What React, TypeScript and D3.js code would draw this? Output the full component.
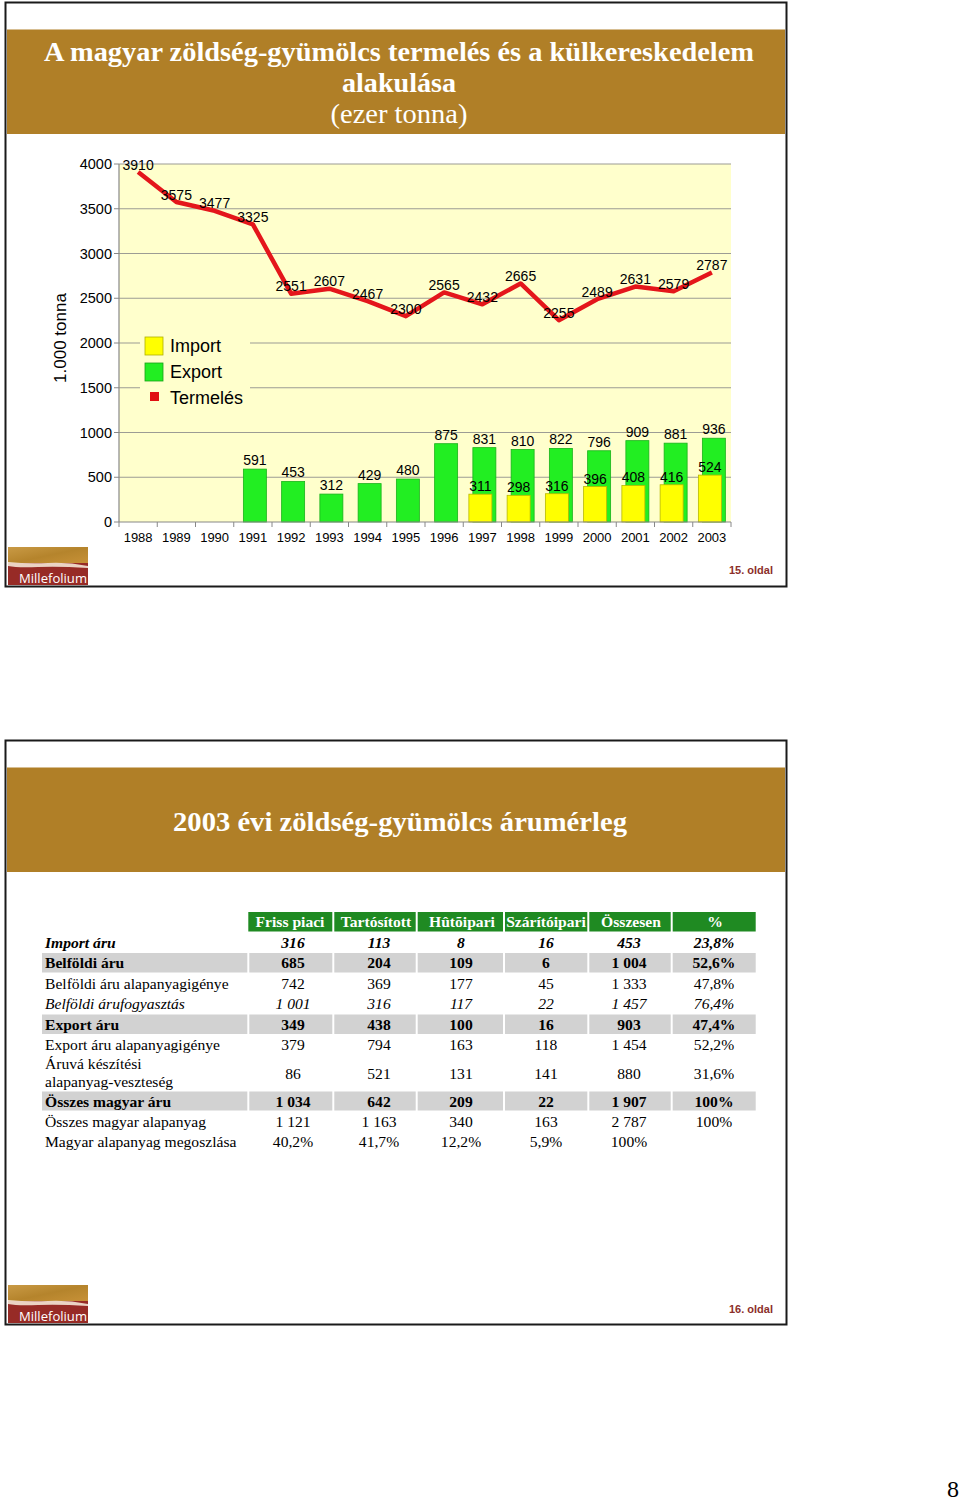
import React from 'react';
import * as d3 from 'd3';

// ---------- Chart data ----------
const years = ['1988','1989','1990','1991','1992','1993','1994','1995','1996','1997','1998','1999','2000','2001','2002','2003'];
const production = [3910,3575,3477,3325,2551,2607,2467,2300,2565,2432,2665,2255,2489,2631,2579,2787];
const exportVals: (number|null)[] = [null,null,null,591,453,312,429,480,875,831,810,822,796,909,881,936];
const importVals: (number|null)[] = [null,null,null,null,null,null,null,null,null,311,298,316,396,408,416,524];
const yTicks = [0,500,1000,1500,2000,2500,3000,3500,4000];
const legendItems = ['Import','Export','Termelés'];

// ---------- Table data ----------
const tableColumns = ['Friss piaci','Tartósított','Hûtõipari','Szárítóipari','Összesen','%'];
const tableRowLabels = [
  ['Import áru'],
  ['Belföldi áru'],
  ['Belföldi áru alapanyagigénye'],
  ['Belföldi árufogyasztás'],
  ['Export áru'],
  ['Export áru alapanyagigénye'],
  ['Áruvá készítési','alapanyag-veszteség'],
  ['Összes magyar áru'],
  ['Összes magyar alapanyag'],
  ['Magyar alapanyag megoszlása'],
];
const tableRowStyles = ['boldItalic','boldGray','normal','italic','boldGray','normal','normal','boldGray','normal','normal'];
const tableValues = [
  ['316','113','8','16','453','23,8%'],
  ['685','204','109','6','1 004','52,6%'],
  ['742','369','177','45','1 333','47,8%'],
  ['1 001','316','117','22','1 457','76,4%'],
  ['349','438','100','16','903','47,4%'],
  ['379','794','163','118','1 454','52,2%'],
  ['86','521','131','141','880','31,6%'],
  ['1 034','642','209','22','1 907','100%'],
  ['1 121','1 163','340','163','2 787','100%'],
  ['40,2%','41,7%','12,2%','5,9%','100%',''],
];

// ---------- Layout constants ----------
const SANS = '"Liberation Sans", Arial, sans-serif';
const SERIF = '"Liberation Serif", "Times New Roman", serif';
const GOLD = '#b07f27';
const PLOT = { left: 119, right: 731, top: 164, bottom: 522 };
const colBounds = [248.3, 333.3, 416.7, 504, 588.3, 671.7, 756.7];
const valueCenters = [293, 379, 461, 546, 629, 714];
const headerCenters = [290, 376, 462, 546, 631, 715];
const rowHeights = [20.5, 20.5, 20.5, 20.5, 20.5, 20.5, 36, 20, 20, 20.5];

function Logo({ x, y }: { x: number; y: number }) {
  return (
    <g transform={`translate(${x},${y})`}>
      <defs>
        <linearGradient id={`lg${y}`} x1="0" y1="0" x2="1" y2="1">
          <stop offset="0" stopColor="#c99a45" />
          <stop offset="0.5" stopColor="#b5842c" />
          <stop offset="1" stopColor="#c89238" />
        </linearGradient>
      </defs>
      <rect x={0} y={0} width={80} height={17} fill={`url(#lg${y})`} />
      <rect x={0} y={16} width={80} height={22} fill="#972b26" />
      <path d="M0,15 Q20,17 40,16 T80,19 L80,21 Q50,19 30,20 T0,19 Z" fill="#f4e6d6" opacity={0.9} />
      <text x={11} y={36} fill="#fff" fontFamily='"Open Sans", "Noto Sans", sans-serif' fontSize={13} textLength={68} lengthAdjust="spacingAndGlyphs">Millefolium</text>
    </g>
  );
}

function Chart() {
  const x = d3.scaleBand<string>().domain(years).range([PLOT.left, PLOT.right]).padding(0);
  const y = d3.scaleLinear().domain([0, 4000]).range([PLOT.bottom, PLOT.top]);
  const bw = 23;
  const off = 2;
  const cx = (yr: string) => (x(yr) as number) + x.bandwidth() / 2;
  const line = d3.line<number>().x((_, i) => cx(years[i])).y((d) => y(d));

  return (
    <g>
      <rect x={PLOT.left} y={PLOT.top} width={PLOT.right - PLOT.left} height={PLOT.bottom - PLOT.top} fill="#ffffcc" />
      {yTicks.map((t) => (
        <g key={t}>
          {t > 0 && <line x1={PLOT.left} x2={PLOT.right} y1={y(t)} y2={y(t)} stroke="#9c9c94" strokeWidth={1.2} />}
          <line x1={PLOT.left - 5} x2={PLOT.left} y1={y(t)} y2={y(t)} stroke="#888" strokeWidth={1} />
          <text x={112} y={y(t) + 5} textAnchor="end" fontFamily={SANS} fontSize={14.5} fill="#000">{t}</text>
        </g>
      ))}
      {/* Legend box */}
      <rect x={140} y={331} width={110} height={78} fill="#ffffcc" />
      <rect x={145} y={337} width={18} height={18} fill="#ffff00" stroke="#b0b000" strokeWidth={0.8} />
      <text x={170} y={352} fontFamily={SANS} fontSize={18}>{legendItems[0]}</text>
      <rect x={145} y={363} width={18} height={18} fill="#22ee22" stroke="#18a018" strokeWidth={0.8} />
      <text x={170} y={378} fontFamily={SANS} fontSize={18}>{legendItems[1]}</text>
      <rect x={150} y={392} width={9} height={9} fill="#e01010" />
      <text x={170} y={404} fontFamily={SANS} fontSize={18}>{legendItems[2]}</text>

      {/* Export bars */}
      {years.map((yr, i) => exportVals[i] == null ? null : (
        <rect key={'e' + yr} x={cx(yr) + off - bw / 2} y={y(exportVals[i] as number)} width={bw}
          height={PLOT.bottom - y(exportVals[i] as number)} fill="#22ee22" stroke="#1ab21a" strokeWidth={0.8} />
      ))}
      {/* Import bars */}
      {years.map((yr, i) => importVals[i] == null ? null : (
        <rect key={'i' + yr} x={cx(yr) - off - bw / 2} y={y(importVals[i] as number)} width={bw}
          height={PLOT.bottom - y(importVals[i] as number)} fill="#ffff00" stroke="#b8b800" strokeWidth={0.8} />
      ))}
      {/* axes */}
      <line x1={PLOT.left} x2={PLOT.left} y1={PLOT.top} y2={PLOT.bottom} stroke="#888" strokeWidth={1.2} />
      <line x1={PLOT.left} x2={PLOT.right} y1={PLOT.bottom} y2={PLOT.bottom} stroke="#888" strokeWidth={1.2} />
      {years.map((yr) => (
        <line key={'t' + yr} x1={x(yr) as number} x2={x(yr) as number} y1={PLOT.bottom} y2={PLOT.bottom + 5} stroke="#888" />
      ))}
      <line x1={PLOT.right} x2={PLOT.right} y1={PLOT.bottom} y2={PLOT.bottom + 5} stroke="#888" />
      {years.map((yr) => (
        <text key={'x' + yr} x={cx(yr)} y={542} textAnchor="middle" fontFamily={SANS} fontSize={13}>{yr}</text>
      ))}
      {/* production line */}
      <path d={line(production) || ''} fill="none" stroke="#e4161b" strokeWidth={4.5} strokeLinejoin="round" />
      {/* labels */}
      {years.map((yr, i) => exportVals[i] == null ? null : (
        <text key={'el' + yr} x={cx(yr) + off} y={y(exportVals[i] as number) - 4} textAnchor="middle" fontFamily={SANS} fontSize={14}>{exportVals[i]}</text>
      ))}
      {years.map((yr, i) => importVals[i] == null ? null : (
        <text key={'il' + yr} x={cx(yr) - off} y={y(importVals[i] as number) - 3} textAnchor="middle" fontFamily={SANS} fontSize={14}>{importVals[i]}</text>
      ))}
      {years.map((yr, i) => (
        <text key={'pl' + yr} x={cx(yr)} y={y(production[i]) - 2.5} textAnchor="middle" fontFamily={SANS} fontSize={14}>{production[i]}</text>
      ))}
      <text transform="translate(66,338) rotate(-90)" textAnchor="middle" fontFamily={SANS} fontSize={17}>1.000 tonna</text>
    </g>
  );
}

function Table() {
  const top = 912;
  const headerH = 19.5;
  let yPos = top + headerH + 0.5;
  const rows = tableRowLabels.map((lbl, i) => {
    const y0 = yPos;
    yPos += rowHeights[i];
    return { lbl, y0, h: rowHeights[i], style: tableRowStyles[i], vals: tableValues[i] };
  });
  const fontProps = (style: string) => ({
    fontWeight: style === 'boldItalic' || style === 'boldGray' ? 'bold' : 'normal',
    fontStyle: style === 'boldItalic' || style === 'italic' ? 'italic' : 'normal',
  });
  return (
    <g fontFamily={SERIF} fontSize={15.6}>
      {tableColumns.map((c, j) => (
        <g key={c}>
          <rect x={colBounds[j] + (j === 0 ? 0 : 1)} y={top} width={colBounds[j + 1] - colBounds[j] - (j === 0 ? 1 : 2)} height={headerH} fill="#1f8a22" />
          <text x={headerCenters[j]} y={top + 15} textAnchor="middle" fill="#fff" fontWeight="bold">{c}</text>
        </g>
      ))}
      {rows.map((r, i) => (
        <g key={i}>
          {r.style === 'boldGray' && (
            <g>
              <rect x={42} y={r.y0 + 0.5} width={colBounds[0] - 42 - 1} height={r.h - 1} fill="#d2d2d2" />
              {tableColumns.map((c, j) => (
                <rect key={c} x={colBounds[j] + 1} y={r.y0 + 0.5} width={colBounds[j + 1] - colBounds[j] - 2} height={r.h - 1} fill="#d2d2d2" />
              ))}
            </g>
          )}
          {r.lbl.length === 1 ? (
            <text x={45} y={r.y0 + r.h / 2 + 5.5} {...fontProps(r.style)}>{r.lbl[0]}</text>
          ) : (
            <g {...fontProps(r.style)}>
              <text x={45} y={r.y0 + 14}>{r.lbl[0]}</text>
              <text x={45} y={r.y0 + 32}>{r.lbl[1]}</text>
            </g>
          )}
          {r.vals.map((v, j) => (
            <text key={j} x={valueCenters[j]} y={r.y0 + r.h / 2 + 5.5} textAnchor="middle" {...fontProps(r.style)}>{v}</text>
          ))}
        </g>
      ))}
    </g>
  );
}

export default function App() {
  return (
    <svg width={960} height={1502} style={{ position: 'absolute', left: 0, top: 0, background: '#fff' }}>
      {/* Slide 1 */}
      <rect x={5.5} y={2.5} width={781} height={584} fill="#fff" stroke="#1a1a1a" strokeWidth={2} />
      <rect x={7} y={29.5} width={778} height={104.5} fill={GOLD} />
      <text x={399} y={61} textAnchor="middle" fill="#fff" fontFamily={SERIF} fontWeight="bold" fontSize={28} textLength={710} lengthAdjust="spacingAndGlyphs">A magyar zöldség-gyümölcs termelés és a külkereskedelem</text>
      <text x={399} y={92} textAnchor="middle" fill="#fff" fontFamily={SERIF} fontWeight="bold" fontSize={28} textLength={114} lengthAdjust="spacingAndGlyphs">alakulása</text>
      <text x={399} y={123} textAnchor="middle" fill="#fff" fontFamily={SERIF} fontSize={28} textLength={137} lengthAdjust="spacingAndGlyphs">(ezer tonna)</text>
      <Chart />
      <Logo x={8} y={547} />
      <text x={773} y={574} textAnchor="end" fill="#8c2f2a" fontFamily={SANS} fontWeight="bold" fontSize={11}>15. oldal</text>

      {/* Slide 2 */}
      <rect x={5.5} y={740.5} width={781} height={584} fill="#fff" stroke="#1a1a1a" strokeWidth={2} />
      <rect x={7} y={767.5} width={778} height={104.5} fill={GOLD} />
      <text x={400} y={831} textAnchor="middle" fill="#fff" fontFamily={SERIF} fontWeight="bold" fontSize={28} textLength={454} lengthAdjust="spacingAndGlyphs">2003 évi zöldség-gyümölcs árumérleg</text>
      <Table />
      <Logo x={8} y={1285} />
      <text x={773} y={1313} textAnchor="end" fill="#8c2f2a" fontFamily={SANS} fontWeight="bold" fontSize={11}>16. oldal</text>

      <text x={953} y={1497} textAnchor="middle" fontFamily={SERIF} fontSize={24}>8</text>
    </svg>
  );
}
